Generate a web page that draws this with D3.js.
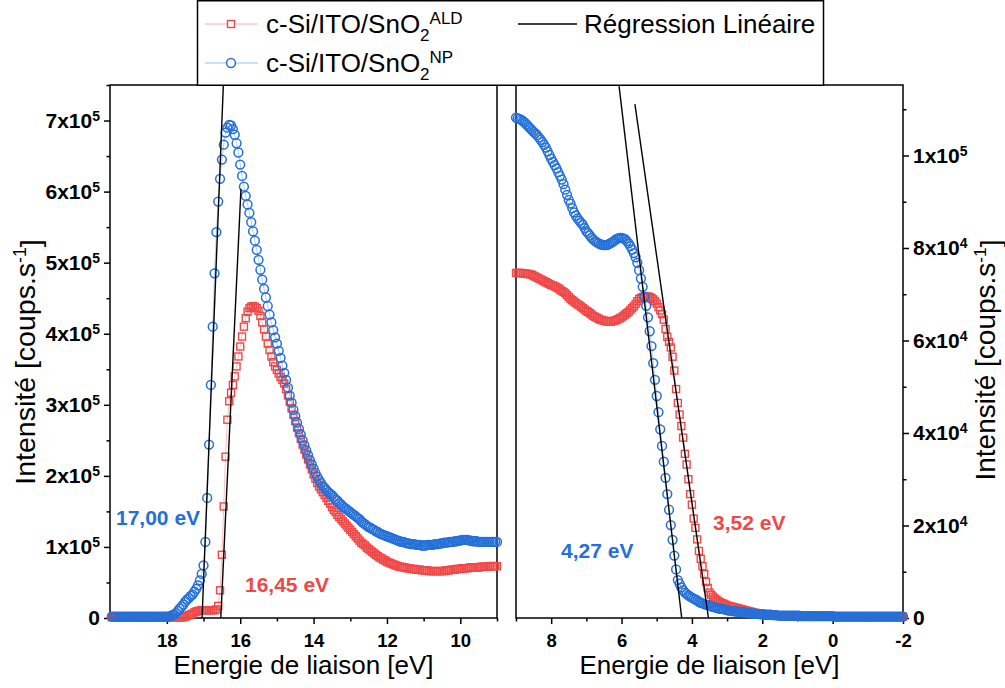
<!DOCTYPE html>
<html><head><meta charset="utf-8">
<script src="https://cdn.jsdelivr.net/npm/d3@7/dist/d3.min.js"></script>
<style>
body{margin:0;background:#fff;}
svg{display:block;font-family:"Liberation Sans",Arial,Helvetica,sans-serif;}
</style></head><body>
<svg id="chart" width="1005" height="688"></svg>
<script>
// ---------------- DATA ----------------
// sampling grid (binding energy, eV), step 0.05 eV, descending
const energyStep = 0.05;
const leftEnergyStart = 19.5;   // left panel: 19.50 -> 9.00
const rightEnergyStart = 9.0;   // right panel: 9.00 -> -2.00

// left panel intensities, units of 1e5 counts/s
const leftNP = [
0.02,0.02,0.02,0.02,0.02,0.02,0.02,0.02,0.02,0.02,
0.02,0.02,0.02,0.02,0.02,0.02,0.02,0.02,0.02,0.02,
0.02,0.02,0.02,0.02,0.02,0.02,0.02,0.02,0.02,0.02,
0.02,0.02,0.03,0.04,0.05,0.07,0.10,0.13,0.16,0.19,
0.23,0.26,0.28,0.31,0.33,0.37,0.41,0.46,0.53,0.62,
0.74,1.07,1.69,2.44,3.28,4.10,4.85,5.43,5.86,6.18,
6.45,6.66,6.83,6.90,6.94,6.93,6.88,6.80,6.68,6.55,
6.38,6.22,6.07,5.94,5.82,5.70,5.57,5.44,5.31,5.18,
5.04,4.90,4.76,4.63,4.51,4.39,4.27,4.16,4.05,3.95,
3.86,3.76,3.66,3.55,3.45,3.35,3.24,3.13,3.03,2.93,
2.84,2.75,2.66,2.58,2.50,2.43,2.36,2.29,2.22,2.16,
2.10,2.04,1.99,1.94,1.90,1.86,1.83,1.80,1.77,1.75,
1.73,1.70,1.67,1.65,1.62,1.60,1.57,1.55,1.53,1.51,
1.49,1.47,1.45,1.43,1.41,1.39,1.36,1.34,1.32,1.30,
1.28,1.27,1.25,1.24,1.22,1.21,1.19,1.18,1.17,1.16,
1.15,1.14,1.13,1.12,1.11,1.10,1.09,1.08,1.07,1.07,
1.06,1.05,1.05,1.04,1.04,1.04,1.03,1.03,1.03,1.02,
1.02,1.02,1.03,1.03,1.03,1.03,1.04,1.04,1.04,1.05,
1.05,1.06,1.06,1.06,1.07,1.07,1.07,1.08,1.08,1.09,
1.09,1.10,1.10,1.10,1.10,1.09,1.09,1.08,1.08,1.08,
1.07,1.07,1.07,1.07,1.07,1.07,1.07,1.07,1.07,1.07,
1.07];
const leftALD = [
0.01,0.01,0.01,0.01,0.01,0.01,0.01,0.01,0.01,0.01,
0.01,0.01,0.01,0.01,0.01,0.01,0.01,0.01,0.01,0.01,
0.01,0.01,0.01,0.01,0.01,0.01,0.01,0.01,0.01,0.01,
0.01,0.01,0.01,0.01,0.01,0.01,0.01,0.01,0.01,0.01,
0.02,0.03,0.04,0.05,0.06,0.08,0.09,0.10,0.10,0.11,
0.11,0.11,0.11,0.11,0.11,0.11,0.11,0.12,0.17,0.39,
0.89,1.57,2.27,2.79,3.05,3.17,3.28,3.40,3.54,3.68,
3.82,3.96,4.10,4.22,4.31,4.36,4.38,4.39,4.38,4.36,
4.32,4.25,4.16,4.06,3.96,3.86,3.77,3.68,3.60,3.54,
3.49,3.44,3.39,3.35,3.30,3.22,3.13,3.04,2.95,2.86,
2.77,2.68,2.60,2.52,2.44,2.37,2.30,2.23,2.16,2.09,
2.02,1.96,1.90,1.85,1.81,1.77,1.73,1.69,1.65,1.61,
1.56,1.52,1.49,1.45,1.42,1.39,1.36,1.33,1.30,1.27,
1.24,1.21,1.18,1.15,1.12,1.09,1.06,1.04,1.02,0.99,
0.97,0.95,0.93,0.91,0.89,0.87,0.85,0.84,0.82,0.81,
0.79,0.78,0.77,0.76,0.75,0.74,0.73,0.72,0.72,0.71,
0.71,0.70,0.70,0.69,0.69,0.69,0.68,0.68,0.68,0.67,
0.67,0.67,0.67,0.66,0.66,0.66,0.66,0.66,0.66,0.66,
0.66,0.66,0.67,0.67,0.67,0.68,0.68,0.68,0.69,0.69,
0.69,0.70,0.70,0.70,0.70,0.71,0.71,0.71,0.71,0.71,
0.71,0.72,0.72,0.72,0.72,0.72,0.73,0.73,0.73,0.73,
0.73];

// right panel intensities, units of 1e4 counts/s
const rightNP = [
10.82,10.80,10.79,10.77,10.74,10.71,10.67,10.63,10.59,10.55,
10.51,10.48,10.44,10.39,10.34,10.29,10.23,10.17,10.09,10.01,
9.93,9.86,9.79,9.72,9.64,9.56,9.48,9.38,9.26,9.15,
9.04,8.96,8.86,8.77,8.70,8.64,8.59,8.54,8.50,8.43,
8.36,8.32,8.27,8.22,8.18,8.15,8.12,8.10,8.08,8.07,
8.06,8.06,8.07,8.09,8.11,8.13,8.16,8.19,8.21,8.22,
8.22,8.21,8.19,8.15,8.10,8.04,7.97,7.89,7.80,7.68,
7.52,7.34,7.16,6.95,6.75,6.50,6.20,5.88,5.51,5.15,
4.80,4.45,4.08,3.72,3.38,3.03,2.68,2.34,2.01,1.69,
1.35,1.05,0.82,0.74,0.66,0.60,0.55,0.52,0.49,0.46,
0.44,0.42,0.40,0.38,0.35,0.33,0.32,0.30,0.29,0.28,
0.27,0.25,0.24,0.23,0.22,0.21,0.20,0.20,0.19,0.18,
0.17,0.16,0.16,0.15,0.15,0.14,0.14,0.13,0.13,0.12,
0.12,0.11,0.11,0.10,0.10,0.10,0.09,0.09,0.09,0.08,
0.08,0.08,0.07,0.07,0.07,0.07,0.06,0.06,0.06,0.05,
0.05,0.05,0.05,0.05,0.05,0.05,0.05,0.05,0.05,0.05,
0.05,0.05,0.04,0.04,0.04,0.04,0.04,0.04,0.04,0.04,
0.04,0.04,0.04,0.04,0.04,0.04,0.04,0.04,0.04,0.04,
0.04,0.03,0.03,0.03,0.03,0.03,0.03,0.03,0.03,0.03,
0.03,0.03,0.03,0.03,0.03,0.03,0.03,0.03,0.03,0.03,
0.03,0.03,0.03,0.03,0.03,0.03,0.03,0.03,0.03,0.03,
0.03,0.03,0.03,0.03,0.03,0.03,0.03,0.03,0.03,0.03,
0.03];
const rightALD = [
7.46,7.46,7.46,7.46,7.45,7.45,7.44,7.44,7.43,7.42,
7.40,7.38,7.36,7.34,7.32,7.30,7.28,7.26,7.24,7.22,
7.20,7.19,7.17,7.15,7.13,7.10,7.07,7.05,7.02,6.98,
6.94,6.90,6.87,6.84,6.81,6.78,6.76,6.73,6.70,6.67,
6.64,6.62,6.59,6.56,6.53,6.51,6.49,6.47,6.45,6.44,
6.43,6.42,6.41,6.41,6.41,6.42,6.43,6.44,6.46,6.48,
6.50,6.53,6.56,6.59,6.62,6.66,6.70,6.74,6.79,6.85,
6.90,6.92,6.94,6.95,6.95,6.95,6.94,6.92,6.89,6.85,
6.80,6.72,6.65,6.57,6.45,6.25,6.08,5.97,5.85,5.65,
5.35,4.95,4.65,4.40,4.15,3.90,3.55,3.32,3.00,2.68,
2.45,2.15,1.95,1.70,1.45,1.28,1.12,0.95,0.78,0.65,
0.55,0.50,0.46,0.42,0.39,0.36,0.34,0.32,0.31,0.29,
0.27,0.26,0.25,0.24,0.23,0.22,0.21,0.20,0.19,0.18,
0.17,0.16,0.15,0.14,0.13,0.12,0.11,0.10,0.10,0.09,
0.09,0.08,0.08,0.07,0.07,0.06,0.06,0.05,0.05,0.05,
0.05,0.05,0.04,0.04,0.04,0.04,0.04,0.04,0.04,0.04,
0.04,0.04,0.04,0.04,0.04,0.04,0.04,0.04,0.04,0.04,
0.04,0.04,0.04,0.04,0.04,0.03,0.03,0.03,0.03,0.03,
0.03,0.03,0.03,0.03,0.03,0.03,0.03,0.03,0.03,0.03,
0.03,0.03,0.03,0.03,0.03,0.03,0.03,0.03,0.03,0.03,
0.03,0.03,0.03,0.03,0.03,0.03,0.03,0.03,0.03,0.03,
0.03,0.03,0.03,0.03,0.03,0.03,0.03,0.03,0.03,0.03,
0.03];

// linear regressions (energy, intensity) endpoints
const regLeftNP  = [[17.04, 0], [16.46, 7.5]];
const regLeftALD = [[16.53, 0], [15.98, 6.04]];
const regRightNP = [[4.29, 0], [6.07, 11.5]];
const regRightALD= [[3.53, 0], [5.62, 11.11]];

// onset labels
const onsetLabels = ["17,00 eV", "16,45 eV", "4,27 eV", "3,52 eV"];

// ticks
const leftXTicks = [18, 16, 14, 12, 10];
const leftXMinor = [19, 17, 15, 13, 11, 9];
const rightXTicks = [8, 6, 4, 2, 0, -2];
const rightXMinor = [9, 7, 5, 3, 1, -1];
const leftYTicks = [0, 1, 2, 3, 4, 5, 6, 7];
const leftYMinor = [0.5, 1.5, 2.5, 3.5, 4.5, 5.5, 6.5, 7.5];
const rightYTicks = [0, 2, 4, 6, 8, 10];
const rightYMinor = [1, 3, 5, 7, 9, 11];

const seriesNames = ["c-Si/ITO/SnO", "c-Si/ITO/SnO"];
const seriesSub = ["2", "2"];
const seriesSup = ["ALD", "NP"];
const regName = "Régression Linéaire";
const xTitle = "Energie de liaison [eV]";
const yTitle = "Intensité [coups.s";

// ---------------- DRAW ----------------
const RED = "#F04848", BLUE = "#2470DA";
const svg = d3.select("#chart");
const leftE = leftNP.map((_, i) => +(leftEnergyStart - i * energyStep).toFixed(2));
const rightE = rightNP.map((_, i) => +(rightEnergyStart - i * energyStep).toFixed(2));

const xL = d3.scaleLinear().domain([19.55, 9]).range([110, 497]);
const yL = d3.scaleLinear().domain([0, 7.5]).range([618, 85]);
const xR = d3.scaleLinear().domain([9, -2]).range([516, 903]);
const yR = d3.scaleLinear().domain([0, 11.524]).range([618, 85]);

function styleAxis(g, fs) {
  g.select(".domain").remove();
  g.selectAll(".tick line").attr("stroke", "#000").attr("stroke-width", 1.5);
  g.selectAll(".tick text").attr("fill", "#000").attr("font-weight", "bold")
    .attr("font-size", fs).attr("font-family", "'Liberation Sans',Arial,sans-serif");
}

function sci(sel, fmt) {
  sel.each(function (d) {
    const t = d3.select(this);
    t.text(null);
    if (d === 0) { t.text("0"); return; }
    const [m, e] = fmt(d);
    t.append("tspan").text(m + "x10");
    t.append("tspan").attr("dy", "-0.5em").attr("font-size", 14).text(e);
  });
}

function xAxes(x, major, minor) {
  const g = svg.append("g").attr("transform", "translate(0,618)")
    .call(d3.axisBottom(x).tickValues(major).tickSize(6).tickSizeOuter(0).tickPadding(10).tickFormat(d => d));
  styleAxis(g, 18.5);
  const gm = svg.append("g").attr("transform", "translate(0,618)")
    .call(d3.axisBottom(x).tickValues(minor).tickSize(3.5).tickSizeOuter(0).tickFormat(""));
  styleAxis(gm, 10);
}
xAxes(xL, leftXTicks, leftXMinor);
xAxes(xR, rightXTicks, rightXMinor);

// left y axis
{
  const g = svg.append("g").attr("transform", "translate(110,0)")
    .call(d3.axisLeft(yL).tickValues(leftYTicks).tickSize(6).tickSizeOuter(0).tickPadding(4).tickFormat(""));
  styleAxis(g, 21);
  g.selectAll(".tick text").call(sci, d => [d, "5"]);
  const gm = svg.append("g").attr("transform", "translate(110,0)")
    .call(d3.axisLeft(yL).tickValues(leftYMinor).tickSize(3.5).tickSizeOuter(0).tickFormat(""));
  styleAxis(gm, 10);
}
// right y axis
{
  const g = svg.append("g").attr("transform", "translate(903,0)")
    .call(d3.axisRight(yR).tickValues(rightYTicks).tickSize(6).tickSizeOuter(0).tickPadding(4).tickFormat(""));
  styleAxis(g, 21);
  g.selectAll(".tick text").call(sci, d => d >= 10 ? [d / 10, "5"] : [d, "4"]);
  const gm = svg.append("g").attr("transform", "translate(903,0)")
    .call(d3.axisRight(yR).tickValues(rightYMinor).tickSize(3.5).tickSizeOuter(0).tickFormat(""));
  styleAxis(gm, 10);
}

// frames
svg.append("rect").attr("x", xL.range()[0]).attr("y", 85).attr("width", xL.range()[1] - xL.range()[0]).attr("height", 533)
  .attr("fill", "none").attr("stroke", "#000").attr("stroke-width", 1.5);
svg.append("rect").attr("x", xR.range()[0]).attr("y", 85).attr("width", xR.range()[1] - xR.range()[0]).attr("height", 533)
  .attr("fill", "none").attr("stroke", "#000").attr("stroke-width", 1.5);

function drawSeries(E, V, x, y, color, shape) {
  const pts = E.map((e, i) => [e, V[i]]);
  svg.append("path").datum(pts)
    .attr("d", d3.line().x(d => x(d[0])).y(d => y(d[1])))
    .attr("fill", "none").attr("stroke", color).attr("stroke-opacity", 0.35).attr("stroke-width", 1);
  const g = svg.append("g");
  if (shape === "square") {
    g.selectAll("rect").data(pts).join("rect")
      .attr("x", d => x(d[0]) - 3.5).attr("y", d => y(d[1]) - 3.5)
      .attr("width", 7).attr("height", 7)
      .attr("fill", "none").attr("stroke", color).attr("stroke-width", 1.4);
  } else {
    g.selectAll("circle").data(pts).join("circle")
      .attr("cx", d => x(d[0])).attr("cy", d => y(d[1])).attr("r", 4.4)
      .attr("fill", "none").attr("stroke", color).attr("stroke-width", 1.5);
  }
}
drawSeries(leftE, leftALD, xL, yL, RED, "square");
drawSeries(leftE, leftNP, xL, yL, BLUE, "circle");
drawSeries(rightE, rightALD, xR, yR, RED, "square");
drawSeries(rightE, rightNP, xR, yR, BLUE, "circle");

function regLine(seg, x, y) {
  svg.append("path").datum(seg)
    .attr("d", d3.line().x(d => x(d[0])).y(d => y(d[1])))
    .attr("stroke", "#000").attr("stroke-width", 1.4).attr("fill", "none");
}
regLine(regLeftNP, xL, yL);
regLine(regLeftALD, xL, yL);
regLine(regRightNP, xR, yR);
regLine(regRightALD, xR, yR);

// onset labels
const lab = [[116, 525, BLUE], [245, 592, RED], [561, 558, BLUE], [713, 530, RED]];
onsetLabels.forEach((t, i) => {
  svg.append("text").attr("x", lab[i][0]).attr("y", lab[i][1]).attr("fill", lab[i][2])
    .attr("font-size", 21).attr("font-weight", "bold").text(t);
});

// axis titles
svg.append("text").attr("x", (xL.range()[0] + xL.range()[1]) / 2).attr("y", 674).attr("text-anchor", "middle")
  .attr("font-size", 26).text(xTitle);
svg.append("text").attr("x", (xR.range()[0] + xR.range()[1]) / 2).attr("y", 674).attr("text-anchor", "middle")
  .attr("font-size", 26).text(xTitle);
function yTitleAt(xb, yc, fs) {
  const t = svg.append("text").attr("transform", `translate(${xb},${yc}) rotate(-90)`)
    .attr("text-anchor", "middle").attr("font-size", fs);
  t.append("tspan").text(yTitle);
  t.append("tspan").attr("dy", "-0.5em").attr("font-size", fs * 0.62).text("-1");
  t.append("tspan").attr("dy", "0.5em").text("]");
}
yTitleAt(35, 362, 28.5);
yTitleAt(995, 360, 28);

// legend
const lg = svg.append("g");
lg.append("rect").attr("x", 197.5).attr("y", 0.75).attr("width", 626).attr("height", 84.5)
  .attr("fill", "#fff").attr("stroke", "#000").attr("stroke-width", 1.5);
function legendEntry(row, color, shape, i) {
  const yc = row === 0 ? 24 : 63;
  lg.append("line").attr("x1", 205).attr("x2", 258).attr("y1", yc).attr("y2", yc)
    .attr("stroke", color).attr("stroke-opacity", 0.45).attr("stroke-width", 1);
  if (shape === "square") lg.append("rect").attr("x", 231 - 3.5).attr("y", yc - 3.5).attr("width", 7).attr("height", 7)
    .attr("fill", "#fff").attr("stroke", color).attr("stroke-width", 1.4);
  else lg.append("circle").attr("cx", 231).attr("cy", yc).attr("r", 4.4).attr("fill", "#fff")
    .attr("stroke", color).attr("stroke-width", 1.5);
  const t = lg.append("text").attr("x", 266).attr("y", yc + 9).attr("font-size", 26);
  t.append("tspan").text(seriesNames[i]);
  t.append("tspan").attr("dy", 8).attr("font-size", 17).text(seriesSub[i]);
  t.append("tspan").attr("dy", -17).attr("font-size", 17).text(seriesSup[i]);
}
legendEntry(0, RED, "square", 0);
legendEntry(1, BLUE, "circle", 1);
lg.append("line").attr("x1", 518).attr("x2", 577).attr("y1", 24).attr("y2", 24).attr("stroke", "#000").attr("stroke-width", 1.4);
lg.append("text").attr("x", 584).attr("y", 33).attr("font-size", 26).text(regName);
</script>
</body></html>
